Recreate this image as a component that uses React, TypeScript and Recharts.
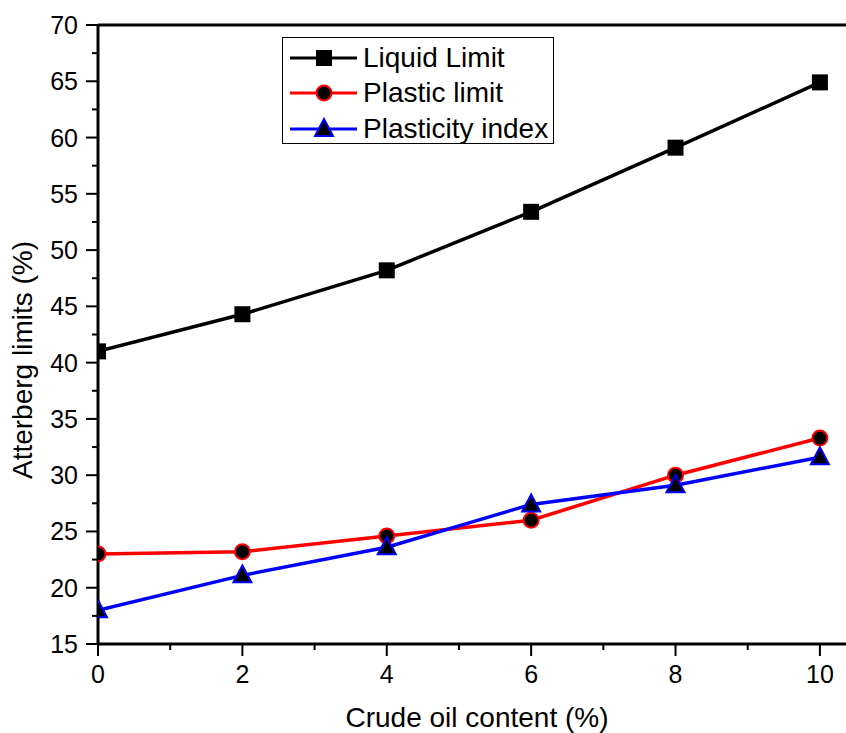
import { LineChart, Line, XAxis, YAxis, ReferenceLine } from "recharts";

const crudeOil = [0, 2, 4, 6, 8, 10];
const liquidLimit = [41.0, 44.3, 48.2, 53.4, 59.1, 64.9];
const plasticLimit = [23.0, 23.2, 24.6, 26.0, 30.0, 33.3];
const plasticityIndex = [18.0, 21.1, 23.6, 27.4, 29.1, 31.6];

const xTicks = [0, 1, 2, 3, 4, 5, 6, 7, 8, 9, 10];
const yTicks = [15, 17.5, 20, 22.5, 25, 27.5, 30, 32.5, 35, 37.5, 40, 42.5, 45, 47.5, 50, 52.5, 55, 57.5, 60, 62.5, 65, 67.5, 70];

const FONT = "'Liberation Sans', Arial, sans-serif";

const data = crudeOil.map((c, i) => ({
  crude: c,
  ll: liquidLimit[i],
  pl: plasticLimit[i],
  pi: plasticityIndex[i],
}));

const series = [
  { key: "ll", name: "Liquid Limit", color: "#000000", shape: "square" },
  { key: "pl", name: "Plastic limit", color: "#ff0000", shape: "circle" },
  { key: "pi", name: "Plasticity index", color: "#0000ff", shape: "triangle" },
];

function Marker({ cx, cy, shape, color }: any) {
  if (cx == null || cy == null) return null;
  if (shape === "square") {
    return <rect x={cx - 8} y={cy - 8} width={16} height={16} fill="#000" />;
  }
  if (shape === "circle") {
    return <circle cx={cx} cy={cy} r={7.5} fill="#000" stroke={color} strokeWidth={2} />;
  }
  return (
    <polygon
      points={`${cx},${cy - 10} ${cx - 9},${cy + 7} ${cx + 9},${cy + 7}`}
      fill="#000"
      stroke={color}
      strokeWidth={2}
    />
  );
}

function XTick({ x, y, payload }: any) {
  const major = payload.value % 2 === 0;
  return (
    <g>
      <line x1={x} x2={x} y1={y} y2={y + (major ? 12 : 6)} stroke="#000" strokeWidth={2} />
      {major && (
        <text x={x} y={y + 39} textAnchor="middle" fontSize={25} fontFamily={FONT} fill="#000">
          {payload.value}
        </text>
      )}
    </g>
  );
}

function YTick({ x, y, payload }: any) {
  const major = payload.value % 5 === 0;
  return (
    <g>
      <line x1={x - (major ? 12 : 6)} x2={x} y1={y} y2={y} stroke="#000" strokeWidth={2} />
      {major && (
        <text x={x - 20} y={y + 9} textAnchor="end" fontSize={25} fontFamily={FONT} fill="#000">
          {payload.value}
        </text>
      )}
    </g>
  );
}

function LegendBox() {
  return (
    <div
      style={{
        position: "absolute",
        left: 282,
        top: 37,
        border: "1px solid #000",
        background: "#fff",
        width: 272,
        height: 107,
        boxSizing: "border-box",
        paddingTop: 2,
      }}
    >
      {series.map((s) => (
        <div key={s.key} style={{ display: "flex", alignItems: "center", height: 35.5 }}>
          <svg width={72} height={30} style={{ marginLeft: 6, flexShrink: 0 }}>
            <line x1={1} x2={68} y1={15} y2={15} stroke={s.color} strokeWidth={3} />
            <Marker cx={35} cy={15} shape={s.shape} color={s.color} />
          </svg>
          <span style={{ fontFamily: FONT, fontSize: 28, color: "#000", marginLeft: 2, whiteSpace: "nowrap" }}>
            {s.name}
          </span>
        </div>
      ))}
    </div>
  );
}

export default function App() {
  return (
    <div style={{ position: "absolute", left: 0, top: 0, width: 846, height: 733, overflow: "hidden", background: "#fff" }}>
      <LineChart width={856} height={733} data={data} margin={{ top: 25, right: 0, bottom: 0, left: 0 }}>
        <XAxis
          dataKey="crude"
          type="number"
          domain={[0, 10.5]}
          ticks={xTicks}
          interval={0}
          height={89}
          tickSize={0}
          tickMargin={0}
          tickLine={false}
          tick={<XTick />}
          axisLine={{ stroke: "#000", strokeWidth: 3 }}
          allowDataOverflow
          label={({ viewBox }: any) => (
            <text x={viewBox.x + viewBox.width / 2} y={727} textAnchor="middle" fontSize={28} fontFamily={FONT} fill="#000">
              Crude oil content (%)
            </text>
          )}
        />
        <YAxis
          type="number"
          domain={[15, 70]}
          ticks={yTicks}
          interval={0}
          width={98}
          tickSize={0}
          tickMargin={0}
          tickLine={false}
          tick={<YTick />}
          axisLine={{ stroke: "#000", strokeWidth: 3 }}
          label={() => (
            <text x={32} y={360} transform="rotate(-90 32 360)" textAnchor="middle" fontSize={28} fontFamily={FONT} fill="#000">
              Atterberg limits (%)
            </text>
          )}
        />
        <ReferenceLine y={70} stroke="#000" strokeWidth={3} />
        {series.map((s) => (
          <Line
            key={s.key}
            dataKey={s.key}
            name={s.name}
            stroke={s.color}
            strokeWidth={3.5}
            isAnimationActive={false}
            dot={(p: any) => <Marker key={`${s.key}-${p.index}`} cx={p.cx} cy={p.cy} shape={s.shape} color={s.color} />}
            activeDot={false}
          />
        ))}
      </LineChart>
      <LegendBox />
    </div>
  );
}
